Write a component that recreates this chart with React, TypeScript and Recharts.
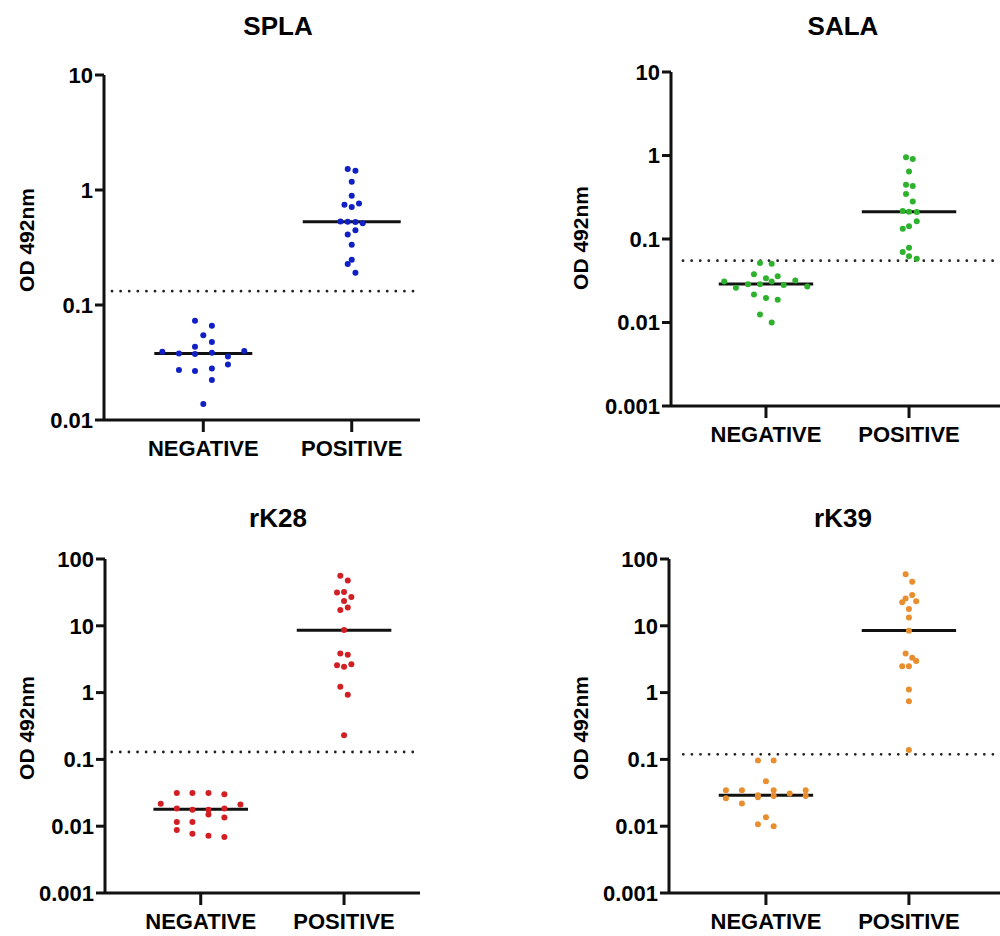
import React from 'react'
import { ScatterChart, Scatter, XAxis, YAxis, ReferenceLine } from 'recharts'

const FONT = '"Liberation Sans", Arial, sans-serif'
const CATEGORIES = ['NEGATIVE', 'POSITIVE']

// y values (OD 492nm), x offsets are the column spread in category units
const SPLA_NEG = [0.0393, 0.0378, 0.0375, 0.0385, 0.0398, 0.0357, 0.0434, 0.0477, 0.0545, 0.073, 0.066, 0.0304, 0.0272, 0.0267, 0.0281, 0.0223, 0.0138]
const SPLA_NEG_X = [-0.276, -0.164, -0.056, 0.058, 0.276, 0.166, -0.056, 0.058, 0, -0.056, 0.058, 0.166, -0.164, -0.056, 0.058, 0.058, 0]
const SPLA_POS = [1.52, 1.47, 1.18, 0.891, 0.745, 0.711, 0.764, 0.533, 0.53, 0.527, 0.513, 0.446, 0.411, 0.334, 0.248, 0.227, 0.191]
const SPLA_POS_X = [-0.027, 0.025, 0, 0, -0.049, 0, 0.049, -0.076, -0.027, 0.025, 0.074, 0.025, -0.027, 0, 0, -0.027, 0.025]
const SPLA_MEDIANS = [0.0378, 0.53]
const SPLA_CUTOFF = 0.132

const SALA_NEG = [0.0309, 0.026, 0.0288, 0.0288, 0.031, 0.0282, 0.0318, 0.027, 0.0517, 0.0507, 0.0379, 0.0339, 0.0358, 0.0216, 0.0197, 0.0187, 0.0125, 0.01]
const SALA_NEG_X = [-0.292, -0.21, -0.126, -0.042, 0.04, 0.124, 0.205, 0.289, -0.042, 0.04, -0.084, 0, 0.082, -0.084, 0, 0.082, -0.042, 0.04]
const SALA_POS = [0.954, 0.911, 0.644, 0.446, 0.43, 0.345, 0.282, 0.216, 0.212, 0.21, 0.163, 0.142, 0.133, 0.0787, 0.07, 0.062, 0.058]
const SALA_POS_X = [-0.021, 0.026, 0, -0.021, 0.026, -0.021, 0.026, -0.044, 0, 0.054, 0.054, 0, -0.044, 0, -0.044, 0, 0.054]
const SALA_MEDIANS = [0.029, 0.212]
const SALA_CUTOFF = 0.055

const RK28_NEG = [0.0315, 0.0315, 0.0315, 0.0302, 0.0216, 0.0211, 0.0184, 0.0184, 0.0176, 0.0176, 0.015, 0.0135, 0.0116, 0.0116, 0.0088, 0.0077, 0.0072, 0.0069]
const RK28_NEG_X = [-0.167, -0.058, 0.054, 0.165, -0.279, 0.277, -0.167, 0.165, -0.058, 0.054, 0.054, 0.165, -0.167, -0.058, -0.167, -0.058, 0.054, 0.165]
const RK28_POS = [55.9, 47.8, 31.6, 32.2, 26.9, 23.6, 17.3, 18.8, 8.62, 3.86, 3.69, 2.56, 2.44, 2.65, 1.22, 0.931, 0.23]
const RK28_POS_X = [-0.026, 0.026, -0.049, 0, 0.051, 0, -0.026, 0.026, 0, -0.026, 0.026, -0.049, 0, 0.051, -0.026, 0.026, 0]
const RK28_MEDIANS = [0.018, 8.6]
const RK28_CUTOFF = 0.129

const RK39_NEG = [0.0344, 0.0262, 0.0344, 0.0218, 0.0966, 0.0966, 0.047, 0.029, 0.0271, 0.0344, 0.0284, 0.0308, 0.0344, 0.0283, 0.0136, 0.0107, 0.01]
const RK39_NEG_X = [-0.28, -0.28, -0.168, -0.168, -0.056, 0.054, 0, -0.056, -0.056, 0.054, 0.054, 0.166, 0.278, 0.278, 0, -0.056, 0.054]
const RK39_POS = [59.2, 45.8, 29.0, 25.6, 22.6, 23.3, 17.9, 13.3, 8.41, 3.86, 3.33, 2.97, 2.47, 2.47, 1.11, 0.743, 0.138]
const RK39_POS_X = [-0.023, 0.023, 0.023, -0.023, -0.047, 0.051, 0, 0, 0, -0.023, 0.023, 0.051, -0.047, 0, 0, 0, 0]
const RK39_MEDIANS = [0.029, 8.5]
const RK39_CUTOFF = 0.119

const TICKS_SPLA = [0.01, 0.1, 1, 10]
const TICKS_SALA = [0.001, 0.01, 0.1, 1, 10]
const TICKS_RK = [0.001, 0.01, 0.1, 1, 10, 100]

const PANELS = [
  {
    title: 'SPLA', color: '#1020c4', neg: SPLA_NEG, negX: SPLA_NEG_X, pos: SPLA_POS, posX: SPLA_POS_X,
    medians: SPLA_MEDIANS, cutoff: SPLA_CUTOFF, ticks: TICKS_SPLA,
    left: 0, top: 0, width: 440, height: 470, plotLeft: 104, plotTop: 75, plotRight: 420, plotBottom: 420,
    xDomain: [0.331, 2.46], cutStart: 0.385,
  },
  {
    title: 'SALA', color: '#2eb22e', neg: SALA_NEG, negX: SALA_NEG_X, pos: SALA_POS, posX: SALA_POS_X,
    medians: SALA_MEDIANS, cutoff: SALA_CUTOFF, ticks: TICKS_SALA,
    left: 520, top: 0, width: 480, height: 470, plotLeft: 151, plotTop: 72, plotRight: 480, plotBottom: 406,
    xDomain: [0.336, 2.636], cutStart: 0.42,
  },
  {
    title: 'rK28', color: '#d21f24', neg: RK28_NEG, negX: RK28_NEG_X, pos: RK28_POS, posX: RK28_POS_X,
    medians: RK28_MEDIANS, cutoff: RK28_CUTOFF, ticks: TICKS_RK,
    left: 0, top: 470, width: 440, height: 466, plotLeft: 105, plotTop: 89, plotRight: 420, plotBottom: 423,
    xDomain: [0.332, 2.53], cutStart: 0.379,
  },
  {
    title: 'rK39', color: '#e98e2e', neg: RK39_NEG, negX: RK39_NEG_X, pos: RK39_POS, posX: RK39_POS_X,
    medians: RK39_MEDIANS, cutoff: RK39_CUTOFF, ticks: TICKS_RK,
    left: 520, top: 470, width: 480, height: 466, plotLeft: 149, plotTop: 89, plotRight: 480, plotBottom: 423,
    xDomain: [0.322, 2.637], cutStart: 0.422,
  },
]

const tickStyle = { fill: '#000', fontSize: 22, fontWeight: 700, fontFamily: FONT }
const axisStroke = { stroke: '#111', strokeWidth: 3 }
const X_AXIS_HEIGHT = 40
const HALF_MEDIAN = 0.33

function Panel({ p }: { p: any }) {
  const negData = p.neg.map((y: number, i: number) => ({ x: 1 + p.negX[i], y }))
  const posData = p.pos.map((y: number, i: number) => ({ x: 2 + p.posX[i], y }))
  const dot = (props: any) => <circle cx={props.cx} cy={props.cy} r={3} fill={p.color} />

  return (
    <div style={{ position: 'absolute', left: p.left, top: p.top }}>
      <ScatterChart
        width={p.width}
        height={p.height}
        margin={{ top: p.plotTop, right: p.width - p.plotRight, bottom: p.height - p.plotBottom - X_AXIS_HEIGHT, left: 0 }}
      >
        <XAxis
          type="number"
          dataKey="x"
          domain={p.xDomain}
          ticks={[1, 2]}
          interval={0}
          allowDataOverflow
          height={X_AXIS_HEIGHT}
          tickFormatter={(v: number) => CATEGORIES[v - 1]}
          tick={tickStyle}
          tickSize={12}
          tickMargin={8}
          axisLine={axisStroke}
          tickLine={axisStroke}
        />
        <YAxis
          type="number"
          dataKey="y"
          scale="log"
          domain={[p.ticks[0], p.ticks[p.ticks.length - 1]]}
          ticks={p.ticks}
          interval={0}
          allowDataOverflow
          width={p.plotLeft}
          tickFormatter={(v: number) => String(v)}
          tick={tickStyle}
          tickSize={9}
          tickMargin={2}
          axisLine={axisStroke}
          tickLine={axisStroke}
        />
        <ReferenceLine
          segment={[{ x: p.cutStart, y: p.cutoff }, { x: p.xDomain[1], y: p.cutoff }]}
          stroke="#222"
          strokeWidth={2.8}
          strokeDasharray="0 8.6"
          strokeLinecap="round"
        />
        {p.medians.map((m: number, i: number) => (
          <ReferenceLine
            key={i}
            segment={[{ x: i + 1 - HALF_MEDIAN, y: m }, { x: i + 1 + HALF_MEDIAN, y: m }]}
            stroke="#111"
            strokeWidth={3}
          />
        ))}
        <Scatter data={negData} shape={dot} isAnimationActive={false} />
        <Scatter data={posData} shape={dot} isAnimationActive={false} />
      </ScatterChart>
    </div>
  )
}

// title and y-label positions (page coords)
const TITLE_POS = [[278, 35], [843, 35], [278, 527], [843, 527]]
const YLABEL_POS = [[33.5, 240], [588, 238], [33.5, 728], [588, 728]]

export default function App() {
  return (
    <div style={{ position: 'absolute', left: 0, top: 0, width: 1000, height: 936, background: '#fff' }}>
      {PANELS.map((p) => <Panel key={p.title} p={p} />)}
      <svg width={1000} height={936} style={{ position: 'absolute', left: 0, top: 0, pointerEvents: 'none' }}>
        {PANELS.map((p, i) => (
          <text key={'t' + i} x={TITLE_POS[i][0]} y={TITLE_POS[i][1]} textAnchor="middle" fontFamily={FONT} fontWeight={700} fontSize={26} fill="#000">
            {p.title}
          </text>
        ))}
        {YLABEL_POS.map(([x, y], i) => (
          <text key={'y' + i} x={x} y={y} transform={`rotate(-90 ${x} ${y})`} textAnchor="middle" fontFamily={FONT} fontWeight={700} fontSize={21} fill="#000">
            OD 492nm
          </text>
        ))}
      </svg>
    </div>
  )
}
